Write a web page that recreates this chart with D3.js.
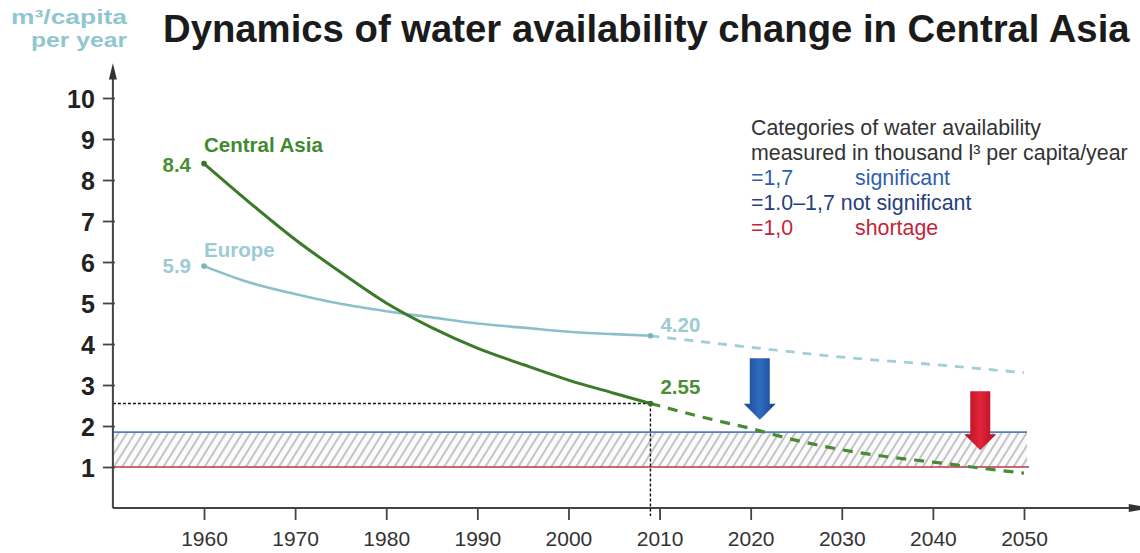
<!DOCTYPE html>
<html>
<head>
<meta charset="utf-8">
<script src="https://cdn.jsdelivr.net/npm/d3@7"></script>
<style>
  html, body { margin: 0; padding: 0; background: #fff; }
  svg { display: block; font-family: "Liberation Sans", Arial, Helvetica, sans-serif; }
</style>
</head>
<body>
<svg id="chart" width="1140" height="553"></svg>
<script>
// Water availability, thousand m³ per capita per year
const centralAsiaYears  = [1960, 1965, 1970, 1975, 1980, 1985, 1990, 1995, 2000, 2005, 2009];
const centralAsiaValues = [8.4, 7.45, 6.55, 5.75, 5.0, 4.4, 3.9, 3.5, 3.12, 2.8, 2.55];
const centralAsiaForecastYears  = [2009, 2015, 2020, 2025, 2030, 2035, 2040, 2045, 2050];
const centralAsiaForecastValues = [2.55, 2.2, 1.94, 1.65, 1.42, 1.25, 1.12, 0.98, 0.85];

const europeYears  = [1960, 1965, 1970, 1975, 1980, 1985, 1990, 1995, 2000, 2005, 2009];
const europeValues = [5.9, 5.5, 5.22, 4.98, 4.8, 4.65, 4.5, 4.4, 4.3, 4.24, 4.2];
const europeForecastYears  = [2009, 2020, 2030, 2040, 2050];
const europeForecastValues = [4.2, 3.92, 3.68, 3.5, 3.3];

// Availability thresholds (band between shortage and significant)
const shortageLevel = 1.0;
const significantLevel = 1.85;
const currentYear = 2009;
const currentValue = 2.55;

// Downward arrows: [year, top value, tip value]
const blueArrow = [2021, 3.65, 2.15];
const redArrow  = [2045.2, 2.85, 1.41];

const xTickValues = [1960, 1970, 1980, 1990, 2000, 2010, 2020, 2030, 2040, 2050];
const yTickValues = [1, 2, 3, 4, 5, 6, 7, 8, 9, 10];

const legendLines = [
  { parts: [["Categories of water availability", "#333"]] },
  { parts: [["measured in thousand l³ per capita/year", "#333"]] },
  { parts: [["=1,7", "#2d5fae"], ["significant", "#2d5fae"]] },
  { parts: [["=1.0–1,7 not significant", "#27407d"]] },
  { parts: [["=1,0", "#c3263a"], ["shortage", "#c3263a"]] }
];

const svg = d3.select("#chart");
const x = d3.scaleLinear().domain([1960, 2050]).range([204, 1024]);
const y = d3.scaleLinear().domain([0, 10]).range([508, 98]);
const axisX0 = x(1950);   // vertical axis position
const axisY0 = y(0);      // horizontal axis position

// scale a text's font size so it spans the given width
function fitWidth(sel, size, width) {
  const w = sel.node().getComputedTextLength();
  sel.attr("font-size", size * width / w);
  return sel;
}

const defs = svg.append("defs");

// hatch for the band
const hatch = defs.append("pattern")
  .attr("id", "hatch").attr("patternUnits", "userSpaceOnUse")
  .attr("width", 7).attr("height", 7)
  .attr("patternTransform", "rotate(32)");
hatch.append("rect").attr("width", 7).attr("height", 7).attr("fill", "#fbfbfd");
hatch.append("line").attr("x1", 1).attr("y1", 0).attr("x2", 1).attr("y2", 7)
  .attr("stroke", "#8d8d8d").attr("stroke-width", 1);

function arrowGradient(id, edge, mid) {
  const g = defs.append("linearGradient").attr("id", id)
    .attr("x1", "0%").attr("x2", "100%").attr("y1", "0%").attr("y2", "0%");
  g.append("stop").attr("offset", "0%").attr("stop-color", edge);
  g.append("stop").attr("offset", "50%").attr("stop-color", mid);
  g.append("stop").attr("offset", "100%").attr("stop-color", edge);
}
arrowGradient("gBlue", "#18478f", "#2f6cc0");
arrowGradient("gRed", "#b20c20", "#e1253a");

// ----- title and unit label
const title = svg.append("text")
  .attr("x", 163).attr("y", 42)
  .attr("font-size", 31).attr("font-weight", "bold").attr("fill", "#1b1b1b")
  .text("Dynamics of water availability change in Central Asia");
fitWidth(title, 31, 967);

svg.append("text").attr("x", 11).attr("y", 24)
  .attr("font-size", 21).attr("font-weight", "bold").attr("fill", "#90c6d0")
  .attr("textLength", 116).attr("lengthAdjust", "spacingAndGlyphs")
  .text("m³/capita");
svg.append("text").attr("x", 31).attr("y", 47)
  .attr("font-size", 21).attr("font-weight", "bold").attr("fill", "#90c6d0")
  .attr("textLength", 96).attr("lengthAdjust", "spacingAndGlyphs")
  .text("per year");

// ----- hatched band between thresholds
const bandRight = x(2050) + 3;
svg.append("rect")
  .attr("x", axisX0).attr("y", y(significantLevel))
  .attr("width", bandRight - axisX0)
  .attr("height", y(shortageLevel) - y(significantLevel))
  .attr("fill", "url(#hatch)");
svg.append("line")
  .attr("x1", axisX0).attr("x2", bandRight)
  .attr("y1", y(significantLevel)).attr("y2", y(significantLevel))
  .attr("stroke", "#4f7fbf").attr("stroke-width", 1.6);
svg.append("line")
  .attr("x1", axisX0).attr("x2", bandRight + 2)
  .attr("y1", y(shortageLevel)).attr("y2", y(shortageLevel))
  .attr("stroke", "#c0354a").attr("stroke-width", 1.6);

// ----- dotted guides to the current value
svg.append("line")
  .attr("x1", axisX0).attr("x2", x(currentYear))
  .attr("y1", y(currentValue)).attr("y2", y(currentValue))
  .attr("stroke", "#111").attr("stroke-width", 1.4).attr("stroke-dasharray", "3,2");
svg.append("line")
  .attr("x1", x(currentYear)).attr("x2", x(currentYear))
  .attr("y1", y(currentValue)).attr("y2", axisY0 + 8)
  .attr("stroke", "#111").attr("stroke-width", 1.4).attr("stroke-dasharray", "3,2");

// ----- axes
const yAxis = svg.append("g")
  .attr("transform", `translate(${axisX0 + 2},0)`)
  .call(d3.axisLeft(y).tickValues(yTickValues).tickSize(12).tickPadding(8));
yAxis.select(".domain").remove();
yAxis.selectAll(".tick line").attr("stroke", "#444").attr("stroke-width", 1.8);
yAxis.selectAll(".tick text")
  .attr("font-family", "Liberation Sans, Arial, sans-serif")
  .attr("font-size", 25).attr("font-weight", "bold").attr("fill", "#222")
  .attr("dy", "0.36em");

const xAxis = svg.append("g")
  .attr("transform", `translate(0,${axisY0})`)
  .call(d3.axisBottom(x).tickValues(xTickValues).tickFormat(d3.format("d")).tickSize(12).tickPadding(11));
xAxis.select(".domain").remove();
xAxis.selectAll(".tick line").attr("stroke", "#444").attr("stroke-width", 1.8);
xAxis.selectAll(".tick text")
  .attr("font-family", "Liberation Sans, Arial, sans-serif")
  .attr("font-size", 21).attr("fill", "#333");

// axis lines with arrowheads
svg.append("path")
  .attr("d", `M${axisX0},${axisY0} V${y(10.55)}`)
  .attr("stroke", "#444").attr("stroke-width", 2).attr("fill", "none");
svg.append("path")
  .attr("d", `M${axisX0 - 4},${y(10.45)} L${axisX0},${y(10.85)} L${axisX0 + 4},${y(10.45)} Z`)
  .attr("fill", "#333");
svg.append("path")
  .attr("d", `M${axisX0},${axisY0} H${x(2062)}`)
  .attr("stroke", "#444").attr("stroke-width", 2).attr("fill", "none");
svg.append("path")
  .attr("d", `M${x(2061.5)},${axisY0 - 4} L${x(2064)},${axisY0} L${x(2061.5)},${axisY0 + 4} Z`)
  .attr("fill", "#333");

// ----- series lines
const line = d3.line().x(d => x(d[0])).y(d => y(d[1])).curve(d3.curveMonotoneX);
const zip = (a, b) => a.map((v, i) => [v, b[i]]);

svg.append("path").datum(zip(europeForecastYears, europeForecastValues))
  .attr("d", line).attr("fill", "none")
  .attr("stroke", "#9fcfd9").attr("stroke-width", 2.8).attr("stroke-dasharray", "9,8");
svg.append("path").datum(zip(europeYears, europeValues))
  .attr("d", line).attr("fill", "none")
  .attr("stroke", "#8dbfcb").attr("stroke-width", 2.6);

svg.append("path").datum(zip(centralAsiaForecastYears, centralAsiaForecastValues))
  .attr("d", line).attr("fill", "none")
  .attr("stroke", "#4b8a35").attr("stroke-width", 3.2).attr("stroke-dasharray", "10,8");
svg.append("path").datum(zip(centralAsiaYears, centralAsiaValues))
  .attr("d", line).attr("fill", "none")
  .attr("stroke", "#3b7a29").attr("stroke-width", 3);

// end-point dots
[[europeYears, europeValues, "#7fb4c1"], [centralAsiaYears, centralAsiaValues, "#36722a"]]
  .forEach(([ys, vs, c]) => {
    [0, ys.length - 1].forEach(i => {
      svg.append("circle").attr("cx", x(ys[i])).attr("cy", y(vs[i])).attr("r", 2.8).attr("fill", c);
    });
  });

// ----- series labels
const lab = (tx, ty, t, c, anchor) => svg.append("text")
  .attr("x", tx).attr("y", ty).attr("text-anchor", anchor || "start")
  .attr("font-size", 20.5).attr("font-weight", "bold").attr("fill", c).text(t);
lab(x(1960), 152, "Central Asia", "#3f8a2f");
lab(x(1960) - 13, y(centralAsiaValues[0]) + 8, d3.format(".1f")(centralAsiaValues[0]), "#4a8f34", "end");
lab(x(1960), 257, "Europe", "#9ccbd6");
lab(x(1960) - 13, y(europeValues[0]) + 7, d3.format(".1f")(europeValues[0]), "#9ccbd6", "end");
lab(x(currentYear) + 10, y(europeValues[europeValues.length - 1]) - 4, d3.format(".2f")(europeValues[europeValues.length - 1]), "#9ccbd6");
lab(x(currentYear) + 10, y(currentValue) - 9, d3.format(".2f")(currentValue), "#4a8f34");

// ----- downward arrows
function downArrow(spec, fill) {
  const [yr, top, tip] = spec;
  const cx = x(yr), t = y(top), b = y(tip);
  const sw = 10, hw = 16, hl = 16;
  svg.append("path")
    .attr("d", `M${cx - sw},${t} H${cx + sw} V${b - hl} H${cx + hw} L${cx},${b} L${cx - hw},${b - hl} H${cx - sw} Z`)
    .attr("fill", fill);
}
downArrow(blueArrow, "url(#gBlue)");
downArrow(redArrow, "url(#gRed)");

// ----- legend
const legend = svg.append("g");
const probe = legend.append("text").attr("font-size", 20).text(legendLines[1].parts[0][0]);
const legendSize = 20 * 377 / probe.node().getComputedTextLength();
probe.remove();
legend.attr("font-size", legendSize);
legendLines.forEach((ln, i) => {
  const ty = 135 + i * 25;
  ln.parts.forEach((p, j) => {
    legend.append("text")
      .attr("x", j === 0 ? 751 : 855)
      .attr("y", ty).attr("fill", p[1]).text(p[0]);
  });
});
</script>
</body>
</html>
